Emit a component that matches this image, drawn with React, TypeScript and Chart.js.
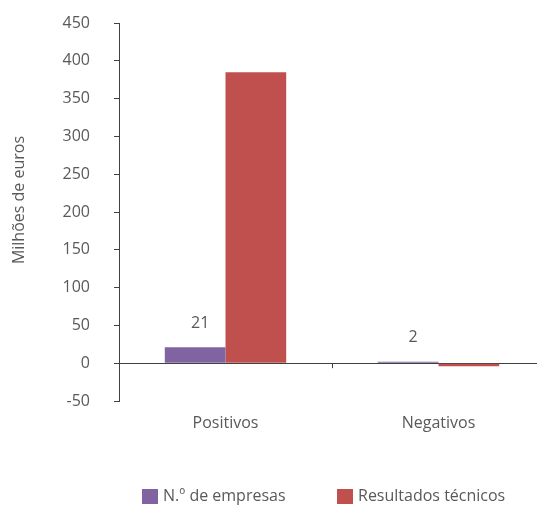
import React, { useEffect, useRef } from "react";
import { Chart, registerables } from "chart.js";

Chart.register(...registerables);

const categories = ["Positivos", "Negativos"];
const empresas = [21, 2];
const resultados = [385, -4];
const seriesNames = ["N.º de empresas", "Resultados técnicos"];
const seriesColors = ["#8064A2", "#C0504D"];
const yTitle = "Milhões de euros";
const yMin = -50;
const yMax = 450;
const yStep = 50;

const FONT = "'Open Sans', sans-serif";
const TEXT = "#595959";
const AXIS = "#404040";

const extras = {
  id: "extras",
  afterDraw(chart: any) {
    const ctx = chart.ctx;
    const x = chart.scales.x;
    const y = chart.scales.y;
    const zeroY = y.getPixelForValue(0);
    ctx.save();
    ctx.strokeStyle = AXIS;
    ctx.lineWidth = 1;
    for (let i = 0; i < categories.length - 1; i++) {
      const bx = Math.round((x.getPixelForValue(i) + x.getPixelForValue(i + 1)) / 2) + 0.5;
      ctx.beginPath();
      ctx.moveTo(bx, zeroY);
      ctx.lineTo(bx, zeroY + 5);
      ctx.stroke();
    }
    ctx.fillStyle = TEXT;
    ctx.font = `16px ${FONT}`;
    ctx.textAlign = "center";
    ctx.textBaseline = "middle";
    const meta = chart.getDatasetMeta(0);
    meta.data.forEach((bar: any, i: number) => {
      ctx.fillText(String(empresas[i]), bar.x + 5, bar.y - 24);
    });
    ctx.save();
    ctx.translate(19, 200);
    ctx.rotate(-Math.PI / 2);
    ctx.fillText(yTitle, 0, 0);
    ctx.restore();
    const items = [
      { x: 142, label: seriesNames[0], color: seriesColors[0] },
      { x: 337, label: seriesNames[1], color: seriesColors[1] },
    ];
    ctx.textAlign = "left";
    items.forEach((it) => {
      ctx.fillStyle = it.color;
      ctx.fillRect(it.x, 489, 16, 15);
      ctx.fillStyle = TEXT;
      ctx.fillText(it.label, it.x + 21, 496);
    });
    ctx.restore();
  },
};

export default function App() {
  const ref = useRef<HTMLCanvasElement>(null);
  useEffect(() => {
    if (!ref.current) return;
    const chart = new Chart(ref.current, {
      type: "bar",
      data: {
        labels: categories,
        datasets: [
          {
            label: seriesNames[0],
            data: empresas,
            backgroundColor: seriesColors[0],
            categoryPercentage: 0.57,
            barPercentage: 1,
          },
          {
            label: seriesNames[1],
            data: resultados,
            backgroundColor: seriesColors[1],
            categoryPercentage: 0.57,
            barPercentage: 1,
          },
        ],
      },
      options: {
        responsive: false,
        animation: false,
        layout: { padding: { left: 0, right: 15, top: 23, bottom: 64 } },
        plugins: { legend: { display: false }, tooltip: { enabled: false } },
        scales: {
          x: {
            grid: { display: false, drawTicks: false },
            border: { display: false },
            ticks: { font: { family: FONT, size: 16 }, color: TEXT, padding: 13 },
            afterFit: (s: any) => {
              s.height = 40;
              s.paddingLeft = 0;
              s.paddingRight = 0;
            },
          },
          y: {
            min: yMin,
            max: yMax,
            ticks: {
              stepSize: yStep,
              font: { family: FONT, size: 16 },
              color: TEXT,
              padding: 24,
            },
            grid: {
              drawTicks: true,
              tickLength: 5,
              tickColor: AXIS,
              color: (c: any) => (c.tick && c.tick.value === 0 ? AXIS : "rgba(0,0,0,0)"),
              lineWidth: 1,
            },
            border: { display: true, color: AXIS, width: 1 },
            afterFit: (s: any) => {
              s.width = 119;
              s.paddingTop = 0;
              s.paddingBottom = 0;
            },
          },
        },
      },
      plugins: [extras],
    });
    return () => chart.destroy();
  }, []);
  return (
    <div style={{ position: "fixed", left: 0, top: 0, width: 537, height: 505, overflow: "hidden", background: "#fff" }}>
      <canvas ref={ref} width={560} height={505} style={{ width: 560, height: 505, display: "block" }} />
    </div>
  );
}
